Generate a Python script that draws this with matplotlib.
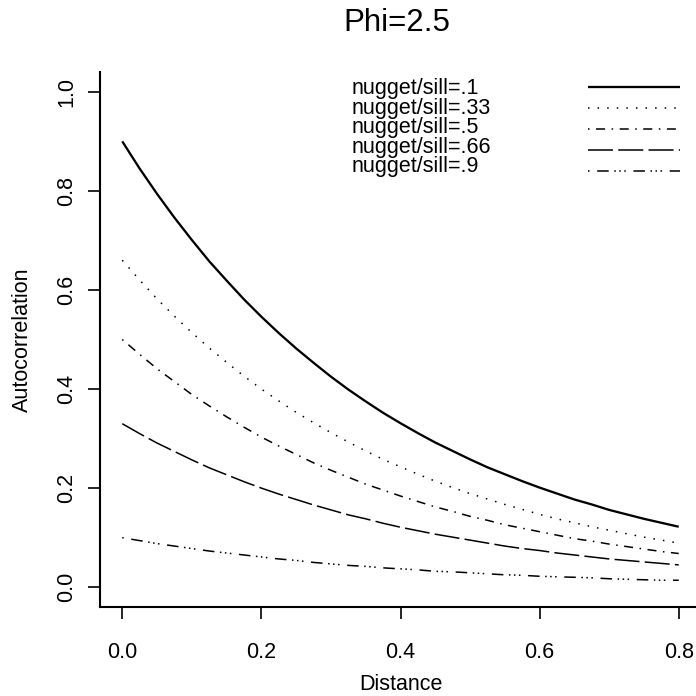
import matplotlib
matplotlib.use('Agg')
import matplotlib.pyplot as plt

plt.rcParams['font.family'] = ['Liberation Sans', 'DejaVu Sans']
plt.rcParams['lines.scale_dashes'] = False

distance = [0.0, 0.025, 0.05, 0.075, 0.1, 0.125, 0.15, 0.175, 0.2, 0.225,
            0.25, 0.275, 0.3, 0.325, 0.35, 0.375, 0.4, 0.425, 0.45, 0.475,
            0.5, 0.525, 0.55, 0.575, 0.6, 0.625, 0.65, 0.675, 0.7, 0.725,
            0.75, 0.775, 0.8]

# autocorrelation for each nugget/sill ratio
acf_01 = [0.900, 0.845, 0.794, 0.746, 0.701, 0.658, 0.619, 0.581, 0.546, 0.513,
          0.482, 0.453, 0.425, 0.399, 0.375, 0.352, 0.331, 0.311, 0.292, 0.275,
          0.258, 0.242, 0.228, 0.214, 0.201, 0.189, 0.177, 0.167, 0.156, 0.147,
          0.138, 0.130, 0.122]
acf_033 = [0.660, 0.620, 0.582, 0.547, 0.514, 0.483, 0.454, 0.426, 0.400, 0.376,
           0.353, 0.332, 0.312, 0.293, 0.275, 0.258, 0.243, 0.228, 0.214, 0.201,
           0.189, 0.178, 0.167, 0.157, 0.147, 0.138, 0.130, 0.122, 0.115, 0.108,
           0.101, 0.095, 0.089]
acf_05 = [0.500, 0.470, 0.441, 0.415, 0.389, 0.366, 0.344, 0.323, 0.303, 0.285,
          0.268, 0.251, 0.236, 0.222, 0.208, 0.196, 0.184, 0.173, 0.162, 0.153,
          0.143, 0.135, 0.126, 0.119, 0.112, 0.105, 0.098, 0.093, 0.087, 0.082,
          0.077, 0.072, 0.068]
acf_066 = [0.330, 0.310, 0.291, 0.274, 0.257, 0.241, 0.227, 0.213, 0.200, 0.188,
           0.177, 0.166, 0.156, 0.146, 0.138, 0.129, 0.121, 0.114, 0.107, 0.101,
           0.095, 0.089, 0.083, 0.078, 0.074, 0.069, 0.065, 0.061, 0.057, 0.054,
           0.051, 0.048, 0.045]
acf_09 = [0.100, 0.094, 0.088, 0.083, 0.078, 0.073, 0.069, 0.065, 0.061, 0.057,
          0.054, 0.050, 0.047, 0.044, 0.042, 0.039, 0.037, 0.035, 0.032, 0.031,
          0.029, 0.027, 0.025, 0.024, 0.022, 0.021, 0.020, 0.019, 0.017, 0.016,
          0.015, 0.014, 0.014]

labels = ['nugget/sill=.1', 'nugget/sill=.33', 'nugget/sill=.5',
          'nugget/sill=.66', 'nugget/sill=.9']
xticks = [0.0, 0.2, 0.4, 0.6, 0.8]
yticks = [0.0, 0.2, 0.4, 0.6, 0.8, 1.0]

# R-like line types (in points)
styles = [
    ('-', 1.65),
    ((0, (1.1, 5.8)), 1.1),
    ((0, (1.1, 4.7, 6.5, 4.7)), 1.1),
    ((0, (18, 3.8)), 1.1),
    ((0, (1.1, 5.5, 8.3, 4.0, 1.1, 2.5, 1.1, 2.5)), 1.1),
]

W, H = 696, 696
fig = plt.figure(figsize=(W / 100, H / 100), dpi=100)
L, R, T, B = 100, 701, 72, 607
ax = fig.add_axes([L / W, (H - B) / H, (R - L) / W, (B - T) / H])

series = [acf_01, acf_033, acf_05, acf_066, acf_09]
for ys, (ls, lw) in zip(series, styles):
    ax.plot(distance, ys, color='black', linestyle=ls, linewidth=lw,
            dash_capstyle='butt', solid_capstyle='butt')

ax.set_xlim(-0.032, 0.832)
ax.set_ylim(-0.04, 1.04)

for s in ['top', 'right']:
    ax.spines[s].set_visible(False)
for s in ['left', 'bottom']:
    ax.spines[s].set_linewidth(1.5)

ax.set_xticks(xticks)
ax.set_xticklabels(['%.1f' % v for v in xticks])
ax.set_yticks(yticks)
ax.set_yticklabels(['%.1f' % v for v in yticks], rotation=90, va='center')
ax.tick_params(axis='both', direction='out', length=8.5, width=1.2,
               labelsize=15.5)
ax.tick_params(axis='x', pad=17)
ax.tick_params(axis='y', pad=8)

ax.set_xlabel('Distance', fontsize=15.5)
ax.xaxis.label.set_va('center')
ax.xaxis.set_label_coords(0.5, (B - 685) / (B - T))
ax.set_ylabel('Autocorrelation', fontsize=15.5)
ax.yaxis.label.set_va('center')
ax.yaxis.set_label_coords((22 - L) / (R - L), 0.5)

ax.set_title('Phi=2.5', fontsize=22.5, pad=0, y=1 + (T - 31) / (B - T),
             x=(397 - L) / (R - L))

# legend drawn by hand: one block of text on the left, line samples on the right
# (baseline alignment refers to the last line of the block)
ax.text((352 - L) / (R - L), (B - 172.2) / (B - T), '\n'.join(labels),
        transform=ax.transAxes, fontsize=15.5, va='baseline', ha='left',
        linespacing=0.907)
for i, (ls, lw) in enumerate(styles):
    ly = (B - (87 + 21 * i)) / (B - T)
    ax.plot([(588 - L) / (R - L), (680 - L) / (R - L)], [ly, ly],
            transform=ax.transAxes, color='black', linestyle=ls, linewidth=lw,
            dash_capstyle='butt', solid_capstyle='butt', clip_on=False)

fig.savefig('out.png', dpi=100)
